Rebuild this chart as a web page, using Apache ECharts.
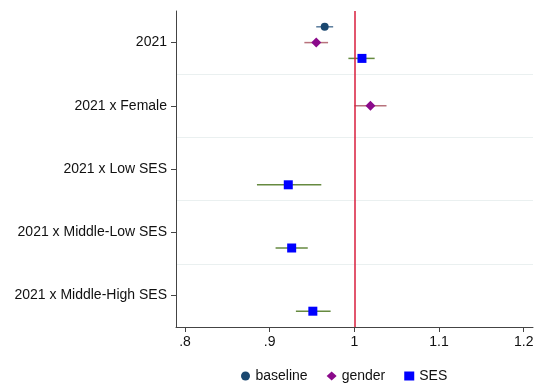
<!DOCTYPE html>
<html>
<head>
<meta charset="utf-8">
<script src="https://cdn.jsdelivr.net/npm/echarts@6/dist/echarts.min.js"></script>
<style>
html,body{margin:0;padding:0;background:#fff;}
#main{width:542px;height:384px;}
</style>
</head>
<body>
<div id="main"></div>
<script>
const terms = ['2021', '2021 x Female', '2021 x Low SES', '2021 x Middle-Low SES', '2021 x Middle-High SES'];
const xTicks = [0.8, 0.9, 1, 1.1, 1.2];
// [row, estimate, lower, upper]
const baseline = [[0, 0.965, 0.955, 0.975]];
const gender = [[0, 0.955, 0.941, 0.969], [1, 1.019, 1.000, 1.038]];
const ses = [[0, 1.009, 0.993, 1.024], [2, 0.922, 0.885, 0.961], [3, 0.926, 0.907, 0.945], [4, 0.951, 0.931, 0.972]];

const font = "'Liberation Sans', Arial, sans-serif";

function ciSeries(name, rows, off, color, markerColor) {
    return {
        name: name,
        type: 'custom',
        yAxisIndex: 1,
        data: rows.map(r => [r[2], r[3], r[0] + off]),
        encode: { x: [0, 1], y: 2 },
        itemStyle: { color: markerColor },
        renderItem: function (params, api) {
            const a = api.coord([api.value(0), api.value(2)]);
            const b = api.coord([api.value(1), api.value(2)]);
            return {
                type: 'line',
                shape: { x1: a[0], y1: a[1], x2: b[0], y2: b[1] },
                style: { stroke: color, lineWidth: 1.5 }
            };
        },
        z: 2
    };
}

function pointSeries(name, rows, off, symbol, size, color) {
    return {
        name: name,
        type: 'scatter',
        yAxisIndex: 1,
        data: rows.map(r => [r[1], r[0] + off]),
        symbol: symbol,
        symbolSize: size,
        itemStyle: { color: color, opacity: 1 },
        z: 3
    };
}

const chart = echarts.init(document.getElementById('main'));
const base = pointSeries('baseline', baseline, -0.25, 'circle', 8, '#1a476f');
base.markLine = {
    silent: true,
    symbol: 'none',
    label: { show: false },
    lineStyle: { color: '#d81e3c', width: 1.5, type: 'solid' },
    data: [{ xAxis: 1 }]
};

chart.setOption({
    animation: false,
    grid: { left: 176, right: 9, top: 11, bottom: 57 },
    xAxis: {
        type: 'value',
        min: 0.7894,
        max: 1.211,
        axisLine: { show: true, onZero: false, lineStyle: { color: '#444', width: 1 } },
        axisTick: { show: true, length: 5, customValues: xTicks, lineStyle: { color: '#444' } },
        axisLabel: {
            customValues: xTicks,
            margin: 8,
            color: '#111',
            fontSize: 14,
            fontFamily: font,
            formatter: v => (v < 1 ? String(v).replace(/^0/, '') : String(v))
        },
        splitLine: { show: false }
    },
    yAxis: [
        {
            type: 'category',
            data: terms,
            inverse: true,
            axisLine: { show: true, lineStyle: { color: '#444', width: 1 } },
            axisTick: { show: true, alignWithLabel: true, length: 5, lineStyle: { color: '#444' } },
            axisLabel: { margin: 9, color: '#111', fontSize: 14, fontFamily: font },
            splitLine: { show: true, showMinLine: false, showMaxLine: false, lineStyle: { color: '#eaf0f0', width: 1 } }
        },
        {
            type: 'value',
            min: -0.5,
            max: 4.5,
            inverse: true,
            show: false
        }
    ],
    legend: {
        left: 236,
        top: 364,
        itemWidth: 10,
        itemHeight: 9,
        itemGap: 19,
        textStyle: { color: '#111', fontSize: 14, fontFamily: font },
        data: [
            { name: 'baseline', icon: 'circle' },
            { name: 'gender', icon: 'diamond' },
            { name: 'SES', icon: 'rect' }
        ]
    },
    series: [
        ciSeries('baseline', baseline, -0.25, '#5a7c9c', '#1a476f'),
        ciSeries('gender', gender, 0, '#b8727c', '#8b0a8b'),
        ciSeries('SES', ses, 0.25, '#668a40', '#0000ff'),
        base,
        pointSeries('gender', gender, 0, 'diamond', 10, '#8b0a8b'),
        pointSeries('SES', ses, 0.25, 'rect', 9, '#0000ff')
    ]
});
</script>
</body>
</html>
